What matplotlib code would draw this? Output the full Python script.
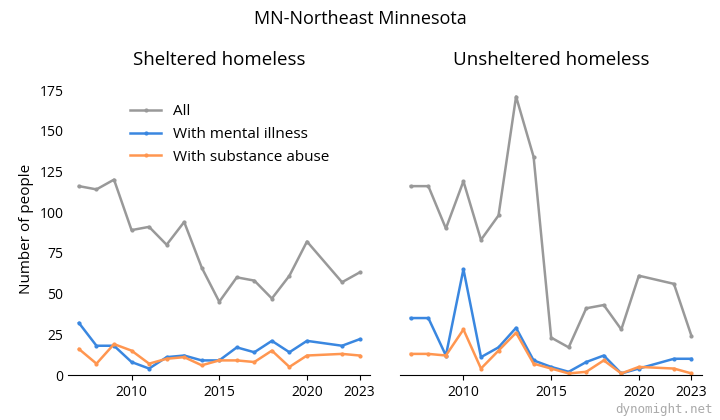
import matplotlib
matplotlib.use("Agg")
import matplotlib.pyplot as plt

years = [2007,2008,2009,2010,2011,2012,2013,2014,2015,2016,2017,2018,2019,2020,2022,2023]
sh_all = [116,114,120,89,91,80,94,66,45,60,58,47,61,82,57,63]
sh_mi = [32,18,18,8,4,11,12,9,9,17,14,21,14,21,18,22]
sh_sa = [16,7,19,15,7,10,11,6,9,9,8,15,5,12,13,12]
un_all = [116,116,90,119,83,98,171,134,23,17,41,43,28,61,56,24]
un_mi = [35,35,12,65,11,17,29,9,5,2,8,12,1,4,10,10]
un_sa = [13,13,12,28,4,15,26,7,4,1,2,9,1,5,4,1]
xticks = [2010,2015,2020,2023]

plt.rcParams['font.family'] = ['Open Sans', 'DejaVu Sans']
fig, axes = plt.subplots(1, 2, figsize=(7.2, 4.2), dpi=100, sharey=True)
fig.subplots_adjust(left=0.095, right=0.975, top=0.805, bottom=0.107, wspace=0.1)
fig.suptitle("MN-Northeast Minnesota", fontsize=13, y=0.975)
cols = ['#999999', '#3a87e0', '#ff9650']
for ax, title, data in [(axes[0], "Sheltered homeless", (sh_all, sh_mi, sh_sa)),
                        (axes[1], "Unsheltered homeless", (un_all, un_mi, un_sa))]:
    for d, c, lab in zip(data, cols, ["All", "With mental illness", "With substance abuse"]):
        ax.plot(years, d, color=c, lw=1.8, marker='o', ms=2, label=lab)
    ax.set_title(title, fontsize=13.5, pad=12)
    ax.set_xticks(xticks)
    ax.set_ylim(0, 180)
    ax.set_xlim(2006.4, 2023.6)
    ax.set_yticks([0,25,50,75,100,125,150,175])
    for s in ['top', 'right', 'left']:
        ax.spines[s].set_visible(False)
    ax.tick_params(axis='y', length=0)
    ax.tick_params(labelsize=10)
axes[1].tick_params(axis='y', labelleft=False)
axes[0].set_ylabel("Number of people", fontsize=11)
axes[0].legend(frameon=False, fontsize=11, loc='upper left', bbox_to_anchor=(0.16, 0.97), handlelength=2)
fig.text(0.99, 0.01, "dynomight.net", ha='right', va='bottom', fontsize=9, color='#aaaaaa', family='DejaVu Sans Mono')
fig.savefig("out.png")
